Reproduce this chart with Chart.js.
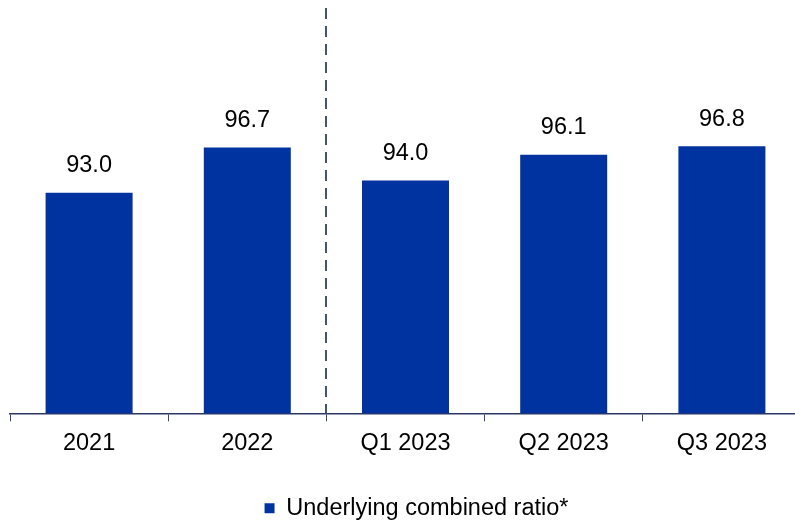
<!DOCTYPE html>
<html>
<head>
<meta charset="utf-8">
<script src="https://cdn.jsdelivr.net/npm/chart.js@4"></script>
<style>
html,body{margin:0;padding:0;background:#fff;overflow:hidden;}
#wrap{width:834px;height:524px;position:relative;}
</style>
</head>
<body>
<div id="wrap"><canvas id="c"></canvas></div>
<script>
const categories = ["2021", "2022", "Q1 2023", "Q2 2023", "Q3 2023"];
const seriesName = "Underlying combined ratio*";
const values = [93.0, 96.7, 94.0, 96.1, 96.8];
const dividerAfterIndex = 1;

const FONT = "'Liberation Sans', Arial, sans-serif";

const valueLabels = {
  id: 'valueLabels',
  afterDatasetsDraw(chart) {
    const ctx = chart.ctx;
    const meta = chart.getDatasetMeta(0);
    ctx.save();
    ctx.font = "23.5px " + FONT;
    ctx.fillStyle = '#000';
    ctx.textAlign = 'center';
    ctx.textBaseline = 'middle';
    meta.data.forEach((bar, i) => {
      ctx.fillText(values[i].toFixed(1), bar.x, bar.y - 27);
    });
    ctx.restore();
  }
};

const divider = {
  id: 'divider',
  afterDatasetsDraw(chart) {
    const x = chart.scales.x;
    const px = Math.round((x.getPixelForValue(dividerAfterIndex) + x.getPixelForValue(dividerAfterIndex + 1)) / 2);
    const ctx = chart.ctx;
    ctx.save();
    ctx.strokeStyle = '#44536e';
    ctx.lineWidth = 2;
    ctx.setLineDash([11, 7]);
    ctx.beginPath();
    ctx.moveTo(px, 8);
    ctx.lineTo(px, chart.chartArea.bottom);
    ctx.stroke();
    ctx.restore();
  }
};

const legendShift = {
  id: 'legendShift',
  afterLayout(chart) {
    if (chart.legend) {
      chart.legend.left += 11;
      chart.legend.right += 11;
      chart.legend.top += 6;
      chart.legend.bottom += 6;
    }
  }
};

new Chart(document.getElementById('c'), {
  type: 'bar',
  data: {
    labels: categories,
    datasets: [{
      label: seriesName,
      data: values,
      backgroundColor: '#0033A0',
      borderWidth: 0,
      barPercentage: 0.55,
      categoryPercentage: 1.0
    }]
  },
  options: {
    responsive: true,
    maintainAspectRatio: false,
    animation: false,
    layout: { padding: { left: 10, right: 33, top: 9, bottom: 0 } },
    plugins: {
      legend: {
        display: true,
        position: 'bottom',
        labels: {
          boxWidth: 10,
          boxHeight: 10,
          color: '#000',
          font: { family: FONT, size: 23.5 },
          padding: 2
        }
      },
      tooltip: { enabled: false }
    },
    scales: {
      x: {
        afterFit(scale) { scale.height += 23; },
        grid: {
          display: true,
          offset: true,
          drawOnChartArea: false,
          drawTicks: true,
          tickLength: 8,
          color: '#3c4670',
          lineWidth: 1
        },
        border: { display: true, color: '#2c3766', width: 1.5 },
        ticks: {
          color: '#000',
          font: { family: FONT, size: 23.5 },
          padding: 8,
          maxRotation: 0
        }
      },
      y: {
        display: false,
        min: 75,
        max: 108
      }
    }
  },
  plugins: [valueLabels, divider, legendShift]
});
</script>
</body>
</html>
